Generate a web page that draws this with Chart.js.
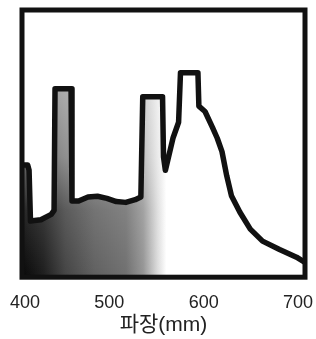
<!DOCTYPE html>
<html>
<head>
<meta charset="utf-8">
<script src="https://cdn.jsdelivr.net/npm/chart.js@4.4.3/dist/chart.umd.min.js"></script>
<style>
  html, body { margin: 0; padding: 0; background: #fff; }
  #wrap { width: 316px; height: 339px; }
</style>
</head>
<body>
<div id="wrap"><canvas id="c"></canvas></div>
<script>
// ---------- 데이터 ----------
const wavelengths = [400, 406, 407.5, 409, 420, 431, 434, 435, 452, 453, 460, 470, 480, 490, 500, 510, 520, 526,
  528, 549, 550, 552, 560, 566, 568, 586.5, 587.5, 594, 602, 607, 612, 617, 622, 631, 642, 655, 673, 691, 700];
const intensity = [42, 42, 40, 21, 21.5, 23.5, 25, 70.5, 70.5, 28.5, 28.5, 30, 30.3, 29.5, 28.3, 28, 29, 30,
  67.5, 67.5, 45, 40, 52, 58, 76.5, 76.5, 64, 62, 56, 52, 47, 38, 30.5, 24.3, 18, 13.5, 10.4, 7.5, 5.5];
const xTicks = [400, 500, 600, 700];
const xTitle = "파장(mm)";

// ---------- 채움 패턴 (왼쪽이 진하고 오른쪽으로 갈수록 흐려짐) ----------
let fillPattern = null;
function makeFill(chart) {
  const area = chart.chartArea;
  const xs = chart.scales.x;
  const off = document.createElement("canvas");
  off.width = chart.width;
  off.height = chart.height;
  const g = off.getContext("2d");
  const h = g.createLinearGradient(xs.getPixelForValue(400), 0, xs.getPixelForValue(553), 0);
  h.addColorStop(0.0, "#080808");
  h.addColorStop(0.15, "#1e1e1e");
  h.addColorStop(0.3, "#444");
  h.addColorStop(0.5, "#606060");
  h.addColorStop(0.72, "#707070");
  h.addColorStop(0.84, "#959595");
  h.addColorStop(0.94, "#dcdcdc");
  h.addColorStop(1.0, "#fff");
  g.fillStyle = h;
  g.fillRect(0, 0, off.width, off.height);
  const v = g.createLinearGradient(0, area.top, 0, area.bottom);
  v.addColorStop(0, "rgba(255,255,255,0.75)");
  v.addColorStop(0.55, "rgba(255,255,255,0.4)");
  v.addColorStop(0.75, "rgba(255,255,255,0.12)");
  v.addColorStop(1, "rgba(255,255,255,0)");
  g.fillStyle = v;
  g.fillRect(0, 0, off.width, off.height);
  return chart.ctx.createPattern(off, "no-repeat");
}

// ---------- 테두리 ----------
const framePlugin = {
  id: "frame",
  afterDraw(chart) {
    const { ctx, chartArea: a } = chart;
    ctx.save();
    ctx.strokeStyle = "#111";
    ctx.lineWidth = 5;
    ctx.strokeRect(a.left, a.top, a.right - a.left, a.bottom - a.top);
    ctx.restore();
  },
};

new Chart(document.getElementById("c"), {
  type: "line",
  data: {
    datasets: [{
      data: wavelengths.map((w, i) => ({ x: w, y: intensity[i] })),
      borderColor: "#111",
      borderWidth: 5.5,
      borderJoinStyle: "round",
      borderCapStyle: "round",
      tension: 0,
      pointRadius: 0,
      fill: "origin",
      backgroundColor: (ctx) => {
        const chart = ctx.chart;
        if (!chart.chartArea) return "#888";
        if (!fillPattern) fillPattern = makeFill(chart);
        return fillPattern;
      },
    }],
  },
  options: {
    responsive: true,
    maintainAspectRatio: false,
    animation: false,
    layout: { padding: { left: 22, right: 11, top: 10, bottom: 1 } },
    plugins: { legend: { display: false }, tooltip: { enabled: false } },
    scales: {
      x: {
        type: "linear",
        min: 400,
        max: 700,
        afterBuildTicks: (s) => { s.ticks = xTicks.map((v) => ({ value: v })); },
        afterFit: (s) => { s.paddingLeft = 0; s.paddingRight = 0; },
        grid: { display: false, drawTicks: false },
        border: { display: false },
        ticks: {
          padding: 15,
          labelOffset: -7,
          maxRotation: 0,
          color: "#222",
          font: { family: "'Liberation Sans', Arial, sans-serif", size: 18 },
          callback: (v) => (v === 400 ? "    400" : String(v)),
        },
        title: {
          display: true,
          text: xTitle,
          color: "#222",
          padding: { top: -16, bottom: 0 },
          font: { family: "'Liberation Sans', 'Noto Sans CJK KR', sans-serif", size: 21 },
        },
      },
      y: {
        display: false,
        min: 0,
        max: 100,
      },
    },
  },
  plugins: [framePlugin],
});
</script>
</body>
</html>
